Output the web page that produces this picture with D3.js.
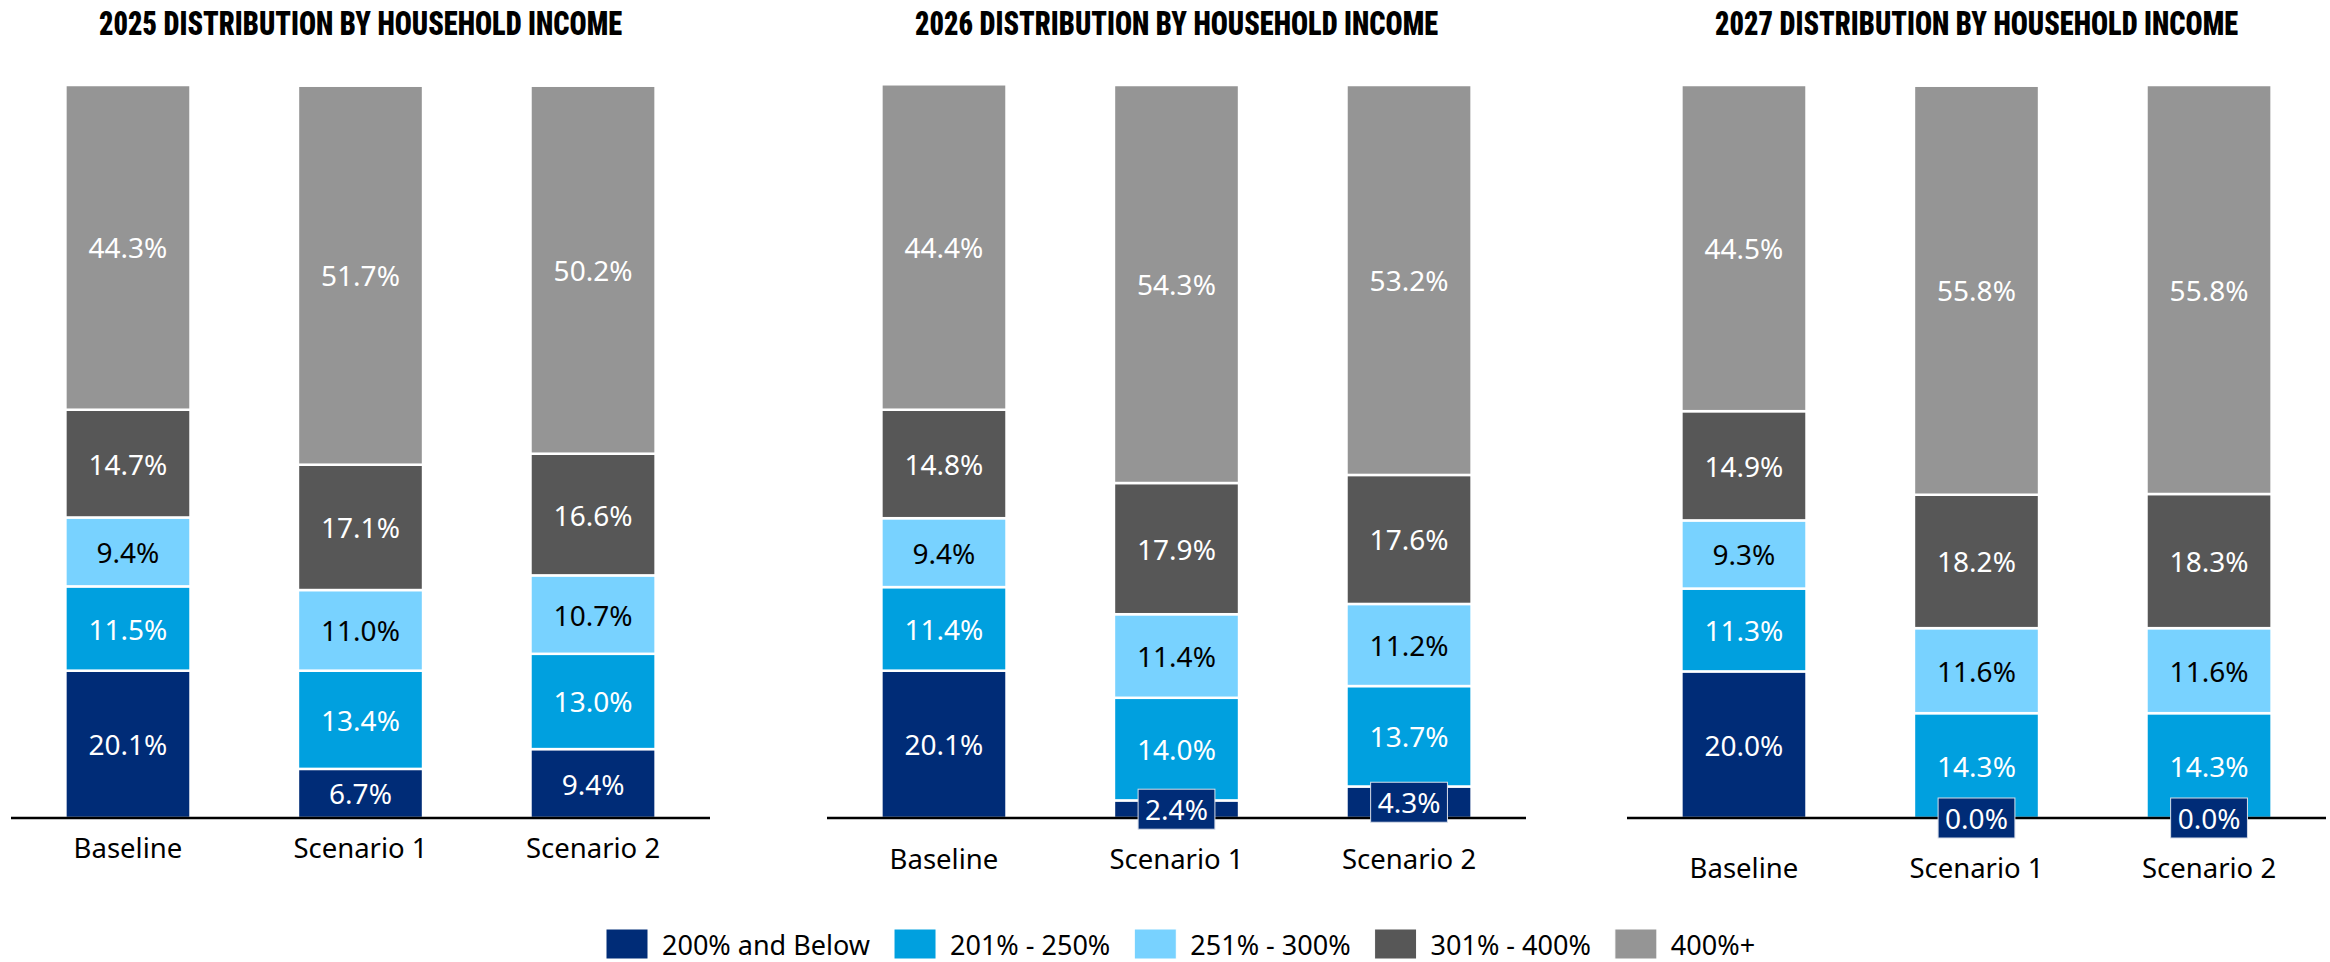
<!DOCTYPE html>
<html>
<head>
<meta charset="utf-8">
<script src="https://cdn.jsdelivr.net/npm/d3@7"></script>
<style>
  body { margin: 0; background: #fff; }
  svg { display: block; }
</style>
</head>
<body>
<svg id="chart" width="2330" height="962"></svg>
<script>
// Household income distribution (share of households, %) by federal poverty level band
const years = ["2025", "2026", "2027"];
const scenarios = ["Baseline", "Scenario 1", "Scenario 2"];
const bands = ["200% and Below", "201% - 250%", "251% - 300%", "301% - 400%", "400%+"];

// one row per scenario, one value per income band (bottom to top)
const shares2025 = [
  [20.1, 11.5, 9.4, 14.7, 44.3],
  [6.7, 13.4, 11.0, 17.1, 51.7],
  [9.4, 13.0, 10.7, 16.6, 50.2]
];
const shares2026 = [
  [20.1, 11.4, 9.4, 14.8, 44.4],
  [2.4, 14.0, 11.4, 17.9, 54.3],
  [4.3, 13.7, 11.2, 17.6, 53.2]
];
const shares2027 = [
  [20.0, 11.3, 9.3, 14.9, 44.5],
  [0.0, 14.3, 11.6, 18.2, 55.8],
  [0.0, 14.3, 11.6, 18.3, 55.8]
];
const sharesByYear = [shares2025, shares2026, shares2027];

const bandColors = ["#002c77", "#00a0df", "#78d2ff", "#575757", "#959595"];
const labelColors = ["#ffffff", "#ffffff", "#000000", "#ffffff", "#ffffff"];

// layout
const panelLeft = [11, 827, 1627];
const panelWidth = 699;
const axisY = 818;
const topY = 85;
const labelFont = "'Noto Sans', 'Open Sans', sans-serif";
const titleFont = "'Roboto Condensed', 'Liberation Sans Narrow', 'DejaVu Sans Condensed', Roboto, sans-serif";

const svg = d3.select("#chart");
const y = d3.scaleLinear().domain([0, 100]).range([axisY, topY]);
const fmt = v => d3.format(".1f")(v) + "%";
const stack = d3.stack().keys(d3.range(bands.length)).value((d, k) => d[k]);

years.forEach((year, pi) => {
  const x = d3.scaleBand()
    .domain(scenarios)
    .range([panelLeft[pi], panelLeft[pi] + panelWidth])
    .paddingInner(0.462)
    .paddingOuter(0.234);

  const g = svg.append("g").attr("class", "panel");
  const series = stack(sharesByYear[pi]);

  // stacked segments
  series.forEach((s, bi) => {
    g.append("g").selectAll("rect")
      .data(s.map((d, si) => ({ d, si })))
      .join("rect")
      .attr("x", o => x(scenarios[o.si]))
      .attr("width", x.bandwidth())
      .attr("y", o => y(o.d[1]))
      .attr("height", o => Math.max(0, y(o.d[0]) - y(o.d[1])))
      .attr("fill", bandColors[bi])
      .attr("stroke", "#ffffff")
      .attr("stroke-width", 2.5);
  });

  // baseline axis
  g.append("line")
    .attr("x1", panelLeft[pi]).attr("x2", panelLeft[pi] + panelWidth)
    .attr("y1", axisY).attr("y2", axisY)
    .attr("stroke", "#000").attr("stroke-width", 2.5);

  // value labels; thin segments get a boxed label
  let overhang = 0;
  series.forEach((s, bi) => {
    s.forEach((d, si) => {
      const v = sharesByYear[pi][si][bi];
      const cx = x(scenarios[si]) + x.bandwidth() / 2;
      const cy = (y(d[0]) + y(d[1])) / 2;
      const segH = y(d[0]) - y(d[1]);
      const lg = g.append("g");
      const t = lg.append("text")
        .attr("x", cx).attr("y", cy)
        .attr("text-anchor", "middle")
        .attr("dominant-baseline", "central")
        .attr("font-family", labelFont)
        .attr("font-size", 28)
        .attr("fill", labelColors[bi])
        .text(fmt(v));
      if (segH < 40) {
        const w = t.node().getComputedTextLength() + 14;
        lg.insert("rect", "text")
          .attr("x", cx - w / 2).attr("y", cy - 20)
          .attr("width", w).attr("height", 40)
          .attr("fill", bandColors[bi])
          .attr("stroke", "#d8dde8").attr("stroke-width", 1);
        overhang = Math.max(overhang, cy + 20 - axisY);
      }
    });
  });

  // category labels
  g.append("g").selectAll("text")
    .data(scenarios)
    .join("text")
    .attr("x", d => x(d) + x.bandwidth() / 2)
    .attr("y", axisY + 40 + overhang)
    .attr("text-anchor", "middle")
    .attr("font-family", labelFont)
    .attr("font-size", 27.5)
    .attr("fill", "#000")
    .text(d => d);

  // panel title
  const left = x(scenarios[0]);
  const right = x(scenarios[scenarios.length - 1]) + x.bandwidth();
  svg.append("text")
    .attr("x", (left + right) / 2)
    .attr("y", 35)
    .attr("text-anchor", "middle")
    .attr("font-family", titleFont)
    .attr("font-weight", 900)
    .attr("font-size", 34)
    .attr("textLength", 523)
    .attr("lengthAdjust", "spacingAndGlyphs")
    .attr("fill", "#000")
    .text(year + " DISTRIBUTION BY HOUSEHOLD INCOME");
});

// legend
const legend = svg.append("g").attr("class", "legend");
let lx = 606;
bands.forEach((b, i) => {
  legend.append("rect")
    .attr("x", lx).attr("y", 929)
    .attr("width", 42).attr("height", 30)
    .attr("fill", bandColors[i])
    .attr("stroke", "#ffffff").attr("stroke-width", 1);
  const t = legend.append("text")
    .attr("x", lx + 56).attr("y", 955)
    .attr("font-family", labelFont)
    .attr("font-size", 27)
    .attr("fill", "#000")
    .text(b);
  lx = lx + 56 + t.node().getComputedTextLength() + 24;
});
</script>
</body>
</html>
